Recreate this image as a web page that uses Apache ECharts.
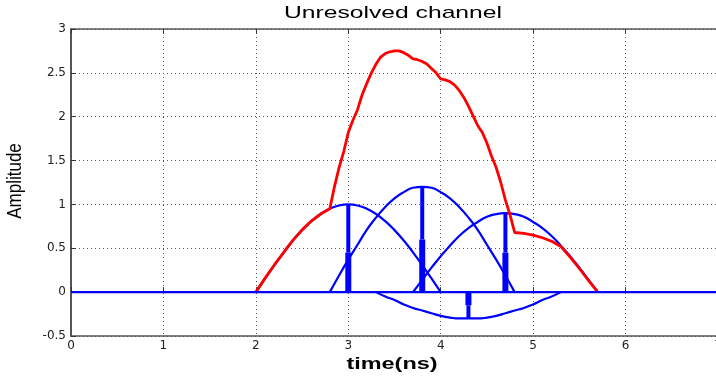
<!DOCTYPE html>
<html>
<head>
<meta charset="utf-8">
<script src="https://cdn.jsdelivr.net/npm/echarts@6/dist/echarts.min.js"></script>
<style>
  html, body { margin: 0; padding: 0; background: #fff; }
  #chart { width: 716px; height: 377px; }
</style>
</head>
<body>
<div id="chart"></div>
<script>
// received (unresolved) signal
const redT = [2.0, 2.1, 2.2, 2.3, 2.4, 2.5, 2.6, 2.7, 2.8, 2.85, 2.9, 2.95, 3.0, 3.05, 3.1, 3.15,
  3.2, 3.25, 3.3, 3.35, 3.4, 3.45, 3.5, 3.55, 3.6, 3.65, 3.7, 3.75, 3.8, 3.85, 3.9, 3.95,
  4.0, 4.05, 4.1, 4.15, 4.2, 4.25, 4.3, 4.35, 4.4, 4.45, 4.5, 4.55, 4.6, 4.65, 4.7, 4.75,
  4.8, 4.9, 5.0, 5.1, 5.2, 5.3, 5.4, 5.5, 5.6, 5.7];
const redV = [0, 0.16, 0.31, 0.45, 0.59, 0.71, 0.81, 0.89, 0.95, 1.2, 1.42, 1.6, 1.82, 1.96, 2.08, 2.25,
  2.38, 2.5, 2.6, 2.68, 2.72, 2.74, 2.75, 2.75, 2.73, 2.7, 2.66, 2.65, 2.63, 2.6, 2.55, 2.5,
  2.43, 2.42, 2.4, 2.36, 2.3, 2.22, 2.12, 2.01, 1.9, 1.82, 1.7, 1.55, 1.42, 1.25, 1.05, 0.88,
  0.68, 0.67, 0.65, 0.62, 0.58, 0.52, 0.4, 0.27, 0.13, 0];

// the four path pulses, sampled every 0.1 ns from their start
const arcStart = [2, 2.8, 3.7, 3.3];
const arc1 = [0, 0.156, 0.309, 0.454, 0.588, 0.707, 0.809, 0.891, 0.951, 0.988, 1, 0.988, 0.951, 0.891, 0.809, 0.707, 0.588, 0.454, 0.309, 0.156, 0];
const arc2 = [0, 0.19, 0.37, 0.54, 0.71, 0.85, 0.97, 1.07, 1.14, 1.19, 1.2, 1.19, 1.14, 1.07, 0.97, 0.85, 0.71, 0.54, 0.37, 0.19, 0];
const arc3 = [0, 0.14, 0.28, 0.41, 0.53, 0.64, 0.73, 0.8, 0.86, 0.89, 0.9, 0.89, 0.86, 0.8, 0.73, 0.64, 0.53, 0.41, 0.28, 0.14, 0];
const arc4 = [0, -0.05, -0.09, -0.14, -0.18, -0.21, -0.24, -0.27, -0.29, -0.3, -0.3, -0.3, -0.29, -0.27, -0.24, -0.21, -0.18, -0.14, -0.09, -0.05, 0];

// channel taps (stems)
const stemT = [3, 3.8, 4.7, 4.3];
const stemTop = [1, 1.2, 0.9, -0.3];
const stemMid = [0.45, 0.6, 0.45, -0.15];

const xRange = [0, 7];

const chart = echarts.init(document.getElementById('chart'), null, { renderer: 'canvas' });

const BLUE = '#0000ff';
const RED = '#ff0000';

const series = [];
[arc1, arc2, arc3, arc4].forEach((vals, k) => {
  series.push({
    type: 'line', showSymbol: false, smooth: true, silent: true,
    lineStyle: { color: BLUE, width: 2.2 },
    data: vals.map((v, i) => [arcStart[k] + i / 10, v])
  });
});
series.push({
  type: 'line', showSymbol: false, silent: true,
  lineStyle: { color: RED, width: 2.8 },
  data: redT.map((t, i) => [t, redV[i]])
});
series.push({
  type: 'line', showSymbol: false, silent: true,
  lineStyle: { color: BLUE, width: 2.2 },
  data: [[xRange[0], 0], [xRange[1], 0]]
});
stemT.forEach((t, i) => {
  series.push({
    type: 'line', showSymbol: false, silent: true,
    lineStyle: { color: BLUE, width: 6 },
    data: [[t, 0], [t, stemMid[i]]]
  });
  series.push({
    type: 'line', showSymbol: false, silent: true,
    lineStyle: { color: BLUE, width: 4 },
    data: [[t, stemMid[i]], [t, stemTop[i]]]
  });
});

const labelFont = { fontFamily: 'DejaVu Sans', fontSize: 12, color: '#222' };
const gridDots = { color: '#555', type: [1, 3], width: 1 };

chart.setOption({
  animation: false,
  grid: {
    left: 71, right: -2, top: 29, bottom: 41, outerBoundsMode: 'none',
    show: true, borderColor: '#000', borderWidth: 1
  },
  xAxis: [{
    type: 'value', min: 0, max: 7, interval: 1,
    axisLine: { lineStyle: { color: '#555', width: 2 } },
    axisTick: { inside: true, length: 5, lineStyle: { color: '#333' } },
    axisLabel: Object.assign({ margin: 4, showMaxLabel: true, hideOverlap: false }, labelFont),
    splitLine: { show: true, lineStyle: gridDots }
  }, {
    type: 'value', min: 0, max: 7, interval: 1, position: 'top',
    axisLine: { show: false },
    axisTick: { inside: true, length: 4, lineStyle: { color: '#333' } },
    axisLabel: { show: false },
    splitLine: { show: false }
  }],
  yAxis: {
    type: 'value', min: -0.5, max: 3, interval: 0.5,
    axisLine: { show: true, lineStyle: { color: '#555', width: 2 } },
    axisTick: { show: true, inside: true, length: 5, lineStyle: { color: '#333' } },
    axisLabel: Object.assign({ margin: 5 }, labelFont),
    splitLine: { show: true, lineStyle: gridDots }
  },
  graphic: [
    {
      type: 'text', x: 393, y: 13, scaleX: 1.45, silent: true,
      style: { text: 'Unresolved channel', font: '17px "Liberation Sans", Arial, sans-serif',
        fill: '#000', textAlign: 'center', textVerticalAlign: 'middle' }
    },
    {
      type: 'text', x: 392, y: 364, scaleX: 1.38, silent: true,
      style: { text: 'time(ns)', font: 'bold 17px "Liberation Sans", Arial, sans-serif',
        fill: '#000', textAlign: 'center', textVerticalAlign: 'middle' }
    },
    {
      type: 'text', x: 15, y: 181, rotation: Math.PI / 2, scaleY: 1.2, silent: true,
      style: { text: 'Amplitude', font: '17px "Liberation Sans", Arial, sans-serif',
        fill: '#000', textAlign: 'center', textVerticalAlign: 'middle' }
    }
  ],
  series: series
});
</script>
</body>
</html>
